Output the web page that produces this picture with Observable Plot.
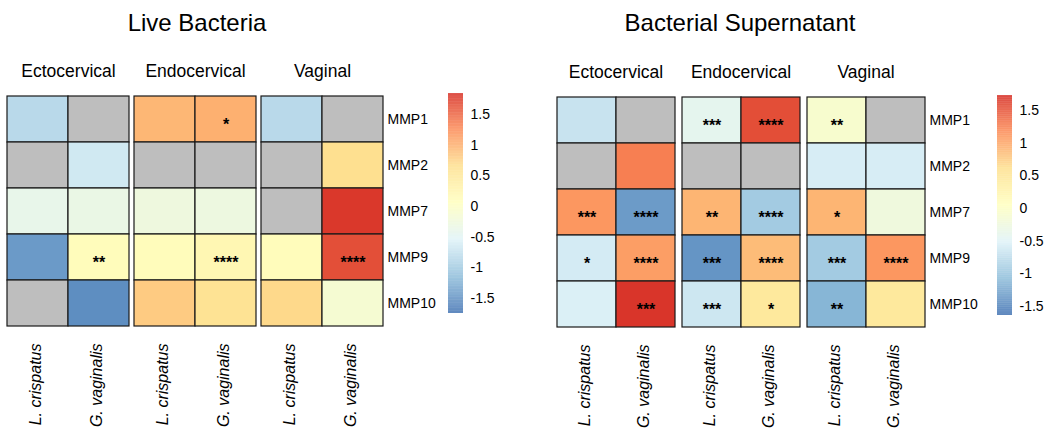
<!DOCTYPE html>
<html>
<head>
<meta charset="utf-8">
<script src="https://cdn.jsdelivr.net/npm/d3@7"></script>
<script src="https://cdn.jsdelivr.net/npm/@observablehq/plot@0.6"></script>
<style>
  html, body { margin: 0; padding: 0; background: #fff; }
  #root { position: relative; width: 1050px; height: 441px; overflow: hidden; font-family: "Liberation Sans", Arial, sans-serif; }
  .title { position: absolute; font-size: 24px; color: #000; transform: translateX(-50%); white-space: nowrap; }
  .abs { position: absolute; top: 0; }
  svg { font-family: "Liberation Sans", Arial, sans-serif; overflow: visible; }
</style>
</head>
<body>
<div id="root"></div>
<script>
// ---- categories ----
const sites = ["Ectocervical", "Endocervical", "Vaginal"];
const species = ["L. crispatus", "G. vaginalis"];
const mmps = ["MMP1", "MMP2", "MMP7", "MMP9", "MMP10"];
const legendTicks = [-1.5, -1, -0.5, 0, 0.5, 1, 1.5];

// ---- Live Bacteria: values per site, [L. crispatus, G. vaginalis], rows MMP1..MMP10 (null = NA) ----
const liveEcto = [[-0.85, null, -0.4, -1.45, null], [null, -0.67, -0.35, 0.1, -1.55]];
const liveEndo = [[0.95, null, -0.28, 0.1, 0.8], [1.0, null, -0.3, 0.2, 0.6]];
const liveVag  = [[-0.85, null, null, 0.1, 0.7], [null, 0.65, 1.8, 1.65, -0.15]];
const liveStarsEcto = [["", "", "", "", ""], ["", "", "", "**", ""]];
const liveStarsEndo = [["", "", "", "", ""], ["*", "", "", "****", ""]];
const liveStarsVag  = [["", "", "", "", ""], ["", "", "", "****", ""]];
const liveRange = [-1.75, 1.85];

// ---- Bacterial Supernatant ----
const supEcto = [[-0.69, null, 1.1, -0.6, -0.55], [null, 1.25, -1.35, 1.05, 1.7]];
const supEndo = [[-0.42, null, 0.9, -1.4, -0.65], [1.55, null, -0.95, 0.85, 0.45]];
const supVag  = [[-0.1, -0.58, 0.9, -0.95, -1.15], [null, -0.58, -0.25, 1.1, 0.45]];
const supStarsEcto = [["", "", "***", "*", ""], ["", "", "****", "****", "***"]];
const supStarsEndo = [["***", "", "**", "***", "***"], ["****", "", "****", "****", "*"]];
const supStarsVag  = [["**", "", "*", "***", "**"], ["", "", "", "****", ""]];
const supRange = [-1.64, 1.73];

const palette = ["#4575b4", "#91bfdb", "#e0f3f8", "#ffffbf", "#fee090", "#fc8d59", "#d73027"];
const ramp = d3.piecewise(d3.interpolateRgb, palette);

function toRows(valsBySite, starsBySite) {
  const rows = [];
  sites.forEach((site, si) => {
    species.forEach((sp, ci) => {
      mmps.forEach((m, ri) => {
        rows.push({site, species: sp, mmp: m, value: valsBySite[si][ci][ri], stars: starsBySite[si][ci][ri]});
      });
    });
  });
  return rows;
}

function heatmap(rows, range, geom) {
  return Plot.plot({
    width: geom.width, height: 441,
    marginTop: geom.top, marginBottom: 441 - geom.bottom,
    marginLeft: geom.left, marginRight: geom.width - geom.right,
    style: {fontFamily: '"Liberation Sans", Arial, sans-serif', color: "#000", background: "transparent"},
    fx: {domain: sites, paddingInner: geom.gap, paddingOuter: 0},
    x: {domain: species, padding: 0},
    y: {domain: mmps, padding: 0},
    color: {type: "linear", domain: range, interpolate: ramp, unknown: "#bebebe"},
    marks: [
      Plot.cell(rows, {fx: "site", x: "species", y: "mmp", fill: "value", stroke: "#1a1a1a", strokeWidth: 1.2, inset: 0}),
      Plot.text(rows.filter(d => d.stars), {fx: "site", x: "species", y: "mmp", text: "stars", fontSize: 16, fontWeight: "bold", dy: 5, fill: "#000"}),
      Plot.axisFx({anchor: "top", tickSize: 0, tickPadding: 18, fontSize: 17.5, label: null}),
      Plot.axisX({anchor: "bottom", tickSize: 0, tickPadding: 15, tickRotate: -90, fontSize: 16, fontStyle: "italic", label: null, dx: -2}),
      Plot.axisY({anchor: "right", tickSize: 0, tickPadding: 4, fontSize: 14, label: null})
    ]
  });
}

function legend(range, geom) {
  const steps = d3.range(range[0], range[1], 0.01);
  return Plot.plot({
    width: 70, height: 441,
    marginTop: geom.top, marginBottom: 441 - geom.bottom,
    marginLeft: 0, marginRight: 55,
    style: {fontFamily: '"Liberation Sans", Arial, sans-serif', color: "#000", background: "transparent"},
    x: {domain: [0, 1], axis: null},
    y: {domain: range},
    color: {type: "linear", domain: range, interpolate: ramp},
    marks: [
      Plot.rect(steps, {x1: 0, x2: 1, y1: d => d, y2: d => Math.min(d + 0.012, range[1]), fill: d => d}),
      Plot.axisY({anchor: "right", ticks: legendTicks, tickFormat: d => String(d), tickSize: 0, tickPadding: 7, fontSize: 14, label: null})
    ]
  });
}

const root = document.getElementById("root");
function place(el, left) { el.classList.add("abs"); el.style.left = left + "px"; root.appendChild(el); }
function title(text, cx, top) {
  const d = document.createElement("div"); d.className = "title"; d.textContent = text;
  d.style.left = cx + "px"; d.style.top = top + "px"; root.appendChild(d);
}

title("Live Bacteria", 197, 9);
title("Bacterial Supernatant", 740, 9);

const liveRows = toRows([liveEcto, liveEndo, liveVag], [liveStarsEcto, liveStarsEndo, liveStarsVag]);
const supRows = toRows([supEcto, supEndo, supVag], [supStarsEcto, supStarsEndo, supStarsVag]);

place(heatmap(liveRows, liveRange, {width: 440, left: 7, right: 383, top: 94, bottom: 328, gap: 5 / 127}), 0);
place(legend(liveRange, {top: 93, bottom: 313}), 448);
place(heatmap(supRows, supRange, {width: 440, left: 15, right: 387, top: 95, bottom: 329, gap: 6 / 126}), 540);
place(legend(supRange, {top: 95, bottom: 315}), 997);
</script>
</body>
</html>
